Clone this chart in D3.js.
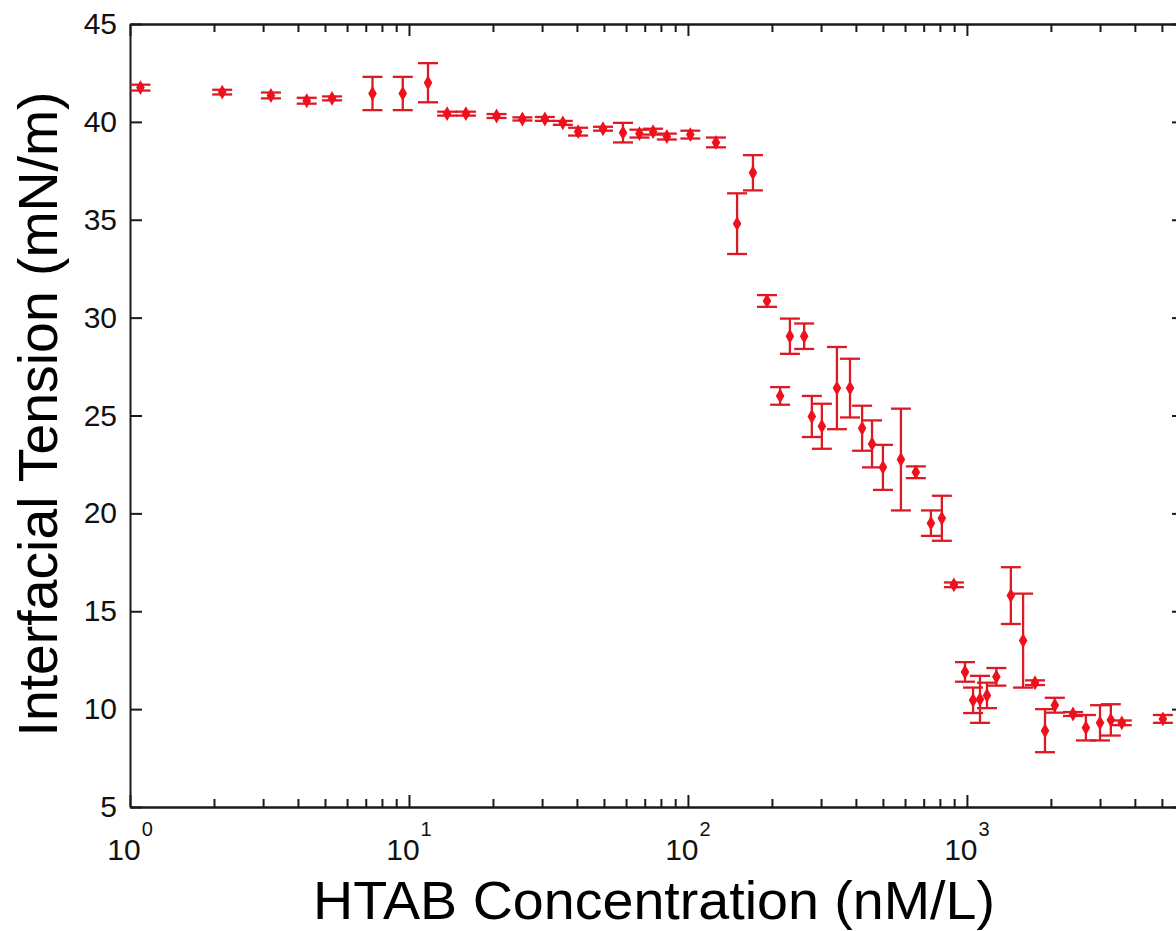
<!DOCTYPE html>
<html>
<head>
<meta charset="utf-8">
<script src="https://cdn.jsdelivr.net/npm/d3@7"></script>
<style>
  body { margin: 0; background: #fff; }
  svg { display: block; font-family: "Liberation Sans", Arial, sans-serif; }
  .axis path, .axis line { stroke: #1a1a1a; stroke-width: 2px; }
  .axis text { fill: #111; font-size: 30px; font-family: "Liberation Sans", Arial, sans-serif; }
</style>
</head>
<body>
<svg id="chart" width="1176" height="931"></svg>
<script>
// HTAB concentration (nM/L)
var concentration = [1.09, 2.14, 3.2, 4.3, 5.3, 7.4, 9.5, 11.7, 13.7, 16.0,
    20.6, 25.5, 30.7, 35.6, 40.4, 49.6, 58.5, 67, 75, 84,
    102, 126, 150, 171, 192, 214, 232, 261, 278, 302,
    342, 381, 421, 457, 500, 580, 656, 743, 813, 898,
    984, 1052, 1114, 1180, 1275, 1437, 1590, 1754, 1905, 2066,
    2400, 2670, 3000, 3280, 3590, 5040];

// interfacial tension (mN/m)
var tension = [41.75, 41.52, 41.35, 41.08, 41.2, 41.45, 41.45, 42.0, 40.42, 40.42,
    40.3, 40.15, 40.15, 39.95, 39.5, 39.65, 39.45, 39.4, 39.5, 39.25,
    39.35, 38.95, 34.8, 37.4, 30.85, 26.0, 29.05, 29.05, 24.95, 24.45,
    26.4, 26.4, 24.35, 23.55, 22.35, 22.75, 22.1, 19.5, 19.75, 16.35,
    11.9, 10.45, 10.5, 10.7, 11.65, 15.8, 13.5, 11.35, 8.9, 10.2,
    9.75, 9.05, 9.3, 9.45, 9.3, 9.5];

// +/- error
var errors = [0.15, 0.12, 0.15, 0.15, 0.1, 0.85, 0.85, 1.0, 0.1, 0.1,
    0.1, 0.08, 0.1, 0.1, 0.2, 0.1, 0.5, 0.2, 0.15, 0.15,
    0.2, 0.25, 1.55, 0.9, 0.3, 0.45, 0.9, 0.65, 1.05, 1.15,
    2.1, 1.5, 1.15, 1.2, 1.15, 2.6, 0.3, 0.65, 1.15, 0.12,
    0.5, 0.65, 1.2, 0.65, 0.45, 1.45, 2.4, 0.12, 1.1, 0.38,
    0.1, 0.65, 0.9, 0.8, 0.12, 0.2];

var yTicks = [5, 10, 15, 20, 25, 30, 35, 40, 45];
var xDecades = [1, 10, 100, 1000];

var xLabel = "HTAB Concentration (nM/L)";
var yLabel = "Interfacial Tension (mN/m)";

var svg = d3.select("#chart");
var plotLeft = 130, plotRight = 1184, plotTop = 24, plotBottom = 807;

var x = d3.scaleLog().domain([1, 6000]).range([plotLeft, plotRight]);
var y = d3.scaleLinear().domain([5, 45]).range([plotBottom, plotTop]);

var minor = x.ticks().filter(function (t) { return xDecades.indexOf(t) < 0; });

// box axes, ticks pointing inward
function xTicks(axisFn, yPos, values, len) {
    svg.append("g").attr("class", "axis")
        .attr("transform", "translate(0," + yPos + ")")
        .call(axisFn(x).tickValues(values).tickSize(-len).tickSizeOuter(0).tickFormat(""));
}
xTicks(d3.axisBottom, plotBottom, minor, 8);
xTicks(d3.axisBottom, plotBottom, xDecades, 12);
xTicks(d3.axisTop, plotTop, minor, 8);
xTicks(d3.axisTop, plotTop, xDecades, 12);

svg.append("g").attr("class", "axis")
    .attr("transform", "translate(" + plotLeft + ",0)")
    .call(d3.axisLeft(y).tickValues(yTicks).tickSize(-12).tickSizeOuter(0).tickPadding(13));
svg.append("g").attr("class", "axis")
    .attr("transform", "translate(" + plotRight + ",0)")
    .call(d3.axisRight(y).tickValues(yTicks).tickSize(-12).tickSizeOuter(0).tickFormat(""));

// 10^n labels
var xl = svg.append("g").selectAll("text")
    .data(xDecades)
  .enter().append("text")
    .attr("x", function (d) { return x(d); })
    .attr("y", 860)
    .attr("text-anchor", "middle")
    .attr("fill", "#111")
    .style("font-size", "30px");
xl.append("tspan").text("10");
xl.append("tspan")
    .attr("dy", -24)
    .attr("dx", 1)
    .style("font-size", "20px")
    .text(function (d) { return Math.round(Math.log10(d)); });

// error bars
var red = "#f0101c";
var data = concentration.map(function (c, i) {
    return { c: c, v: tension[i], e: errors[i] };
});

var bars = svg.append("g")
    .attr("stroke", "#dc1a26")
    .attr("stroke-width", 2.3)
    .selectAll("g")
    .data(data)
  .enter().append("g");

bars.append("line")
    .attr("x1", function (d) { return x(d.c); })
    .attr("x2", function (d) { return x(d.c); })
    .attr("y1", function (d) { return y(d.v - d.e); })
    .attr("y2", function (d) { return y(d.v + d.e); });
[1, -1].forEach(function (s) {
    bars.append("line")
        .attr("x1", function (d) { return x(d.c) - 10; })
        .attr("x2", function (d) { return x(d.c) + 10; })
        .attr("y1", function (d) { return y(d.v + s * d.e); })
        .attr("y2", function (d) { return y(d.v + s * d.e); });
});

svg.append("g").selectAll("path")
    .data(data)
  .enter().append("path")
    .attr("d", d3.symbol().type(d3.symbolDiamond).size(64))
    .attr("transform", function (d) { return "translate(" + x(d.c) + "," + y(d.v) + ")"; })
    .attr("fill", red);

// axis titles
svg.append("text")
    .attr("x", 654)
    .attr("y", 919)
    .attr("text-anchor", "middle")
    .attr("textLength", 682)
    .attr("lengthAdjust", "spacingAndGlyphs")
    .attr("fill", "#000")
    .style("font-size", "54px")
    .text(xLabel);

svg.append("text")
    .attr("transform", "translate(57,414) rotate(-90)")
    .attr("text-anchor", "middle")
    .attr("textLength", 645)
    .attr("lengthAdjust", "spacingAndGlyphs")
    .attr("fill", "#000")
    .style("font-size", "56px")
    .text(yLabel);
</script>
</body>
</html>
